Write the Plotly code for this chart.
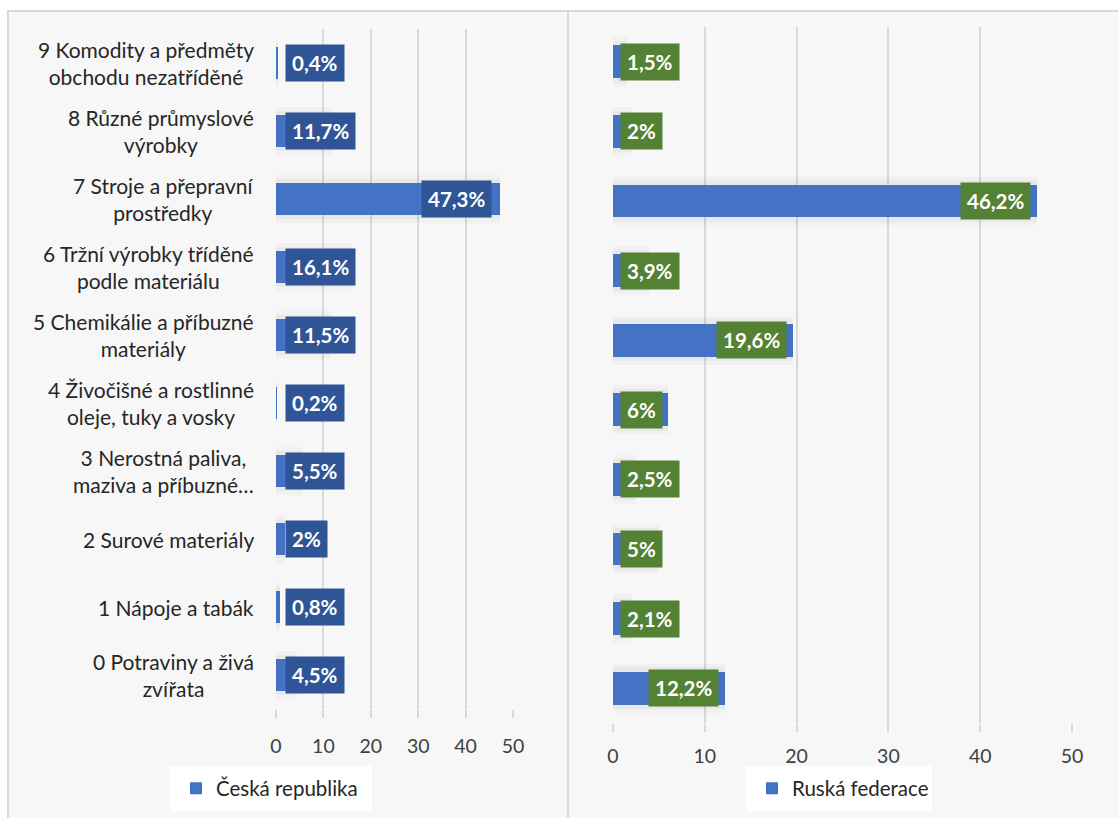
import plotly.graph_objects as go

categories = [
    "0 Potraviny a živá<br>zvířata",
    "1 Nápoje a tabák",
    "2 Surové materiály",
    "3 Nerostná paliva,<br>maziva a příbuzné…",
    "4 Živočišné a rostlinné<br>oleje, tuky a vosky",
    "5 Chemikálie a příbuzné<br>materiály",
    "6 Tržní výrobky tříděné<br>podle materiálu",
    "7 Stroje a přepravní<br>prostředky",
    "8 Různé průmyslové<br>výrobky",
    "9 Komodity a předměty<br>obchodu nezatříděné",
]
cz_values = [4.5, 0.8, 2, 5.5, 0.2, 11.5, 16.1, 47.3, 11.7, 0.4]
ru_values = [12.2, 2.1, 5, 2.5, 6, 19.6, 3.9, 46.2, 2, 1.5]
x_ticks = [0, 10, 20, 30, 40, 50]
series_names = ["Česká republika", "Ruská federace"]

W, H = 1118, 818
FONT = "Lato"
BAR = "#4472C4"
GRID = "#D9D9D9"
TXT = "#404040"

def px_x(p):
    return p / W

def px_y(p):
    return 1 - p / H

# panel geometry in pixels
panels = [
    dict(x0=276, x1=513, yt=29, yb=709, vals=cz_values, box="#2F5597", name=series_names[0],
         legbox=(170, 766, 372, 811), legx=176, lpad=9, rpad=8, standoff=12),
    dict(x0=613, x1=1072, yt=27, yb=723, vals=ru_values, box="#548235", name=series_names[1],
         legbox=(746, 766, 932, 811), legx=752, lpad=7, rpad=6, standoff=8),
]

def fmt(v):
    s = ("%.1f" % v).rstrip("0").rstrip(".")
    return s.replace(".", ",") + "%"

fig = go.Figure()
ypos = list(range(len(categories)))
annotations = []
shapes = []

# background panel and divider
shapes.append(dict(type="rect", xref="paper", yref="paper", x0=px_x(8), x1=1.01, y0=-0.01, y1=px_y(11),
                   fillcolor="#F7F7F7", line=dict(color=GRID, width=2), layer="below"))
shapes.append(dict(type="line", xref="paper", yref="paper", x0=px_x(568), x1=px_x(568), y0=-0.01, y1=px_y(11),
                   line=dict(color=GRID, width=2), layer="below"))

for i, p in enumerate(panels):
    xa = "x" if i == 0 else "x2"
    ya = "y" if i == 0 else "y2"
    legname = "legend" if i == 0 else "legend2"
    # soft shadow
    fig.add_trace(go.Bar(x=p["vals"], y=ypos, orientation="h", xaxis=xa, yaxis=ya,
                         marker=dict(color="rgba(0,0,0,0.025)", line=dict(width=0)), width=0.7,
                         showlegend=False, hoverinfo="skip"))
    fig.add_trace(go.Bar(x=p["vals"], y=ypos, orientation="h", xaxis=xa, yaxis=ya,
                         marker=dict(color="rgba(0,0,0,0.03)", line=dict(width=0)), width=0.6,
                         showlegend=False, hoverinfo="skip"))
    fig.add_trace(go.Bar(x=p["vals"], y=ypos, orientation="h", xaxis=xa, yaxis=ya,
                         marker=dict(color=BAR, line=dict(width=0)), width=0.47,
                         name=p["name"], legend=legname))
    scale = (p["x1"] - p["x0"]) / 50.0
    for j, v in enumerate(p["vals"]):
        t = fmt(v)
        w = 18 + 12.5 * len(t.replace(",", "")) + 4 * t.count(",")
        if v * scale - p["rpad"] - w >= p["lpad"]:
            ann = dict(x=v, xanchor="right", xshift=-p["rpad"])
        else:
            ann = dict(x=0, xanchor="left", xshift=p["lpad"])
        ann.update(xref=xa, yref=ya, y=j, text="<b>" + t + "</b>", showarrow=False,
                   font=dict(family=FONT, size=20.5, color="white"), bgcolor=p["box"],
                   borderpad=6, yanchor="middle")
        annotations.append(ann)
    lb = p["legbox"]
    shapes.append(dict(type="rect", xref="paper", yref="paper", x0=px_x(lb[0]), x1=px_x(lb[2]),
                       y0=px_y(lb[3]), y1=px_y(lb[1]), fillcolor="white", line=dict(width=0),
                       layer="below"))

# category labels
for j, c in enumerate(categories):
    annotations.append(dict(x=px_x(256), xref="paper", xanchor="right", y=j, yref="y",
                            text=c, showarrow=False, align="center",
                            font=dict(family=FONT, size=21, color="#262626")))

axis_common = dict(range=[0, 50], tickvals=x_ticks, showgrid=True, gridcolor=GRID, gridwidth=1.5,
                   zeroline=False, showline=False, ticks="outside", ticklen=8, tickcolor=GRID,
                   tickwidth=1.5, tickfont=dict(family=FONT, size=19.5, color=TXT), fixedrange=True,
                   automargin=False)

p0, p1 = panels

def legend_cfg(p):
    lb = p["legbox"]
    return dict(x=px_x(p["legx"]), y=px_y((lb[1] + lb[3]) / 2), xanchor="left", yanchor="middle",
                bgcolor="rgba(0,0,0,0)", font=dict(family=FONT, size=20.5, color="#262626"),
                borderwidth=0, itemwidth=30, tracegroupgap=0)

fig.update_layout(
    width=W, height=H, autosize=False,
    margin=dict(l=0, r=0, t=0, b=0, pad=0, autoexpand=False),
    paper_bgcolor="white", plot_bgcolor="rgba(0,0,0,0)",
    barmode="overlay", bargap=0,
    font=dict(family=FONT, color=TXT),
    xaxis=dict(domain=[px_x(p0["x0"]), px_x(p0["x1"])], anchor="y", ticklabelstandoff=p0["standoff"], **axis_common),
    yaxis=dict(domain=[px_y(p0["yb"]), px_y(p0["yt"])], range=[-0.5, 9.5], showticklabels=False,
               showgrid=False, zeroline=False, fixedrange=True, automargin=False),
    xaxis2=dict(domain=[px_x(p1["x0"]), px_x(p1["x1"])], anchor="y2", ticklabelstandoff=p1["standoff"], **axis_common),
    yaxis2=dict(domain=[px_y(p1["yb"]), px_y(p1["yt"])], range=[-0.5, 9.5], showticklabels=False,
                showgrid=False, zeroline=False, fixedrange=True, automargin=False),
    legend=legend_cfg(p0),
    legend2=legend_cfg(p1),
    annotations=annotations,
    shapes=shapes,
)

fig.write_html("out.html", config={"displayModeBar": False, "responsive": False})
with open("out.html", "r", encoding="utf-8") as f:
    html = f.read()
html = html.replace("<head>", "<head><style>html,body{margin:0;padding:0;overflow:hidden;}</style>", 1)
with open("out.html", "w", encoding="utf-8") as f:
    f.write(html)
